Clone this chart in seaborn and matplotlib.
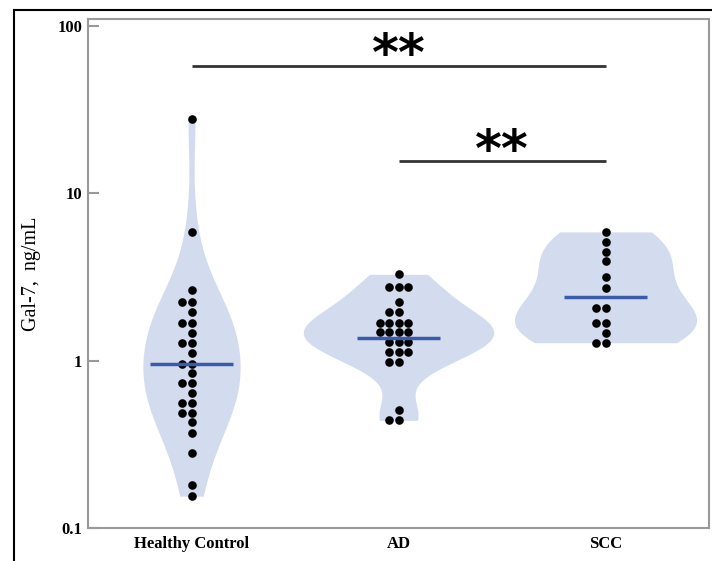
import numpy as np
import pandas as pd
import seaborn as sns
import matplotlib.pyplot as plt
from matplotlib.lines import Line2D

groups = ['Healthy Control', 'AD', 'SCC']

hc_vals = [27.7, 5.88, 2.63, 2.24, 2.24, 1.95, 1.69, 1.69, 1.46, 1.28, 1.28,
           1.11, 0.96, 0.96, 0.84, 0.74, 0.74, 0.64, 0.56, 0.56, 0.49, 0.49,
           0.43, 0.37, 0.28, 0.18, 0.155]
ad_vals = [3.28, 2.76, 2.76, 2.76, 2.24, 1.95, 1.95, 1.68, 1.68, 1.68, 1.68,
           1.48, 1.48, 1.48, 1.48, 1.30, 1.30, 1.30, 1.13, 1.13, 1.13,
           0.98, 0.98, 0.51, 0.44, 0.44]
scc_vals = [5.88, 5.12, 4.46, 3.93, 3.16, 2.72, 2.05, 2.05, 1.69, 1.69, 1.46,
            1.28, 1.28]
medians = [0.96, 1.37, 2.41]

# significance brackets: (x start, x end, y level)
sig_pairs = [(0, 2, 58), (1, 2, 15.5)]
sig_label = '**'

df = pd.DataFrame({
    'group': ['Healthy Control'] * len(hc_vals) + ['AD'] * len(ad_vals) + ['SCC'] * len(scc_vals),
    'value': hc_vals + ad_vals + scc_vals,
})

fig = plt.figure(figsize=(7.12, 5.61), dpi=100)
ax = fig.add_axes([0.1236, 0.0588, 0.8722, 0.9073])

# each violin drawn on its own so its width can follow the original
violin_widths = {'Healthy Control': 0.47, 'AD': 0.92, 'SCC': 0.88}
for g in groups:
    sns.violinplot(data=df[df['group'] == g], x='group', y='value', order=groups,
                   log_scale=True, cut=0, inner=None, color='#d3dcef',
                   saturation=1, linewidth=0, density_norm='width',
                   width=violin_widths[g], ax=ax)
sns.swarmplot(data=df, x='group', y='value', order=groups, color='black',
              size=6.2, ax=ax, zorder=3)

for i, m in enumerate(medians):
    ax.hlines(m, i - 0.2, i + 0.2, color='#3b5aa8', linewidth=2.5, zorder=4)

for x0, x1, yv in sig_pairs:
    ax.hlines(yv, x0, x1, color='#333333', linewidth=2)
    ax.annotate(sig_label, xy=((x0 + x1) / 2, yv), xytext=(0, -11),
                textcoords='offset points', ha='center', va='bottom',
                fontsize=37, fontweight='bold', family='DejaVu Sans')

ax.set_ylim(0.1, 110)
ax.set_xlim(-0.5, 2.5)
ax.set_yticks([0.1, 1, 10, 100])
ax.set_yticklabels(['0.1', '1', '10', '100'])
ax.minorticks_off()
ax.tick_params(axis='y', direction='in', length=8, width=1.5, color='#999999', pad=4)
ax.tick_params(axis='x', length=0, pad=6)
for lab in ax.get_xticklabels() + ax.get_yticklabels():
    lab.set_family('Liberation Serif')
    lab.set_fontweight('bold')
    lab.set_fontsize(12)
ax.set_xlabel('')
ax.set_ylabel('Gal-7,  ng/mL', family='Liberation Serif', fontsize=14.5, labelpad=12)
for s in ax.spines.values():
    s.set_color('#999999')
    s.set_linewidth(1.5)

# screenshot frame
fig.add_artist(Line2D([14 / 712, 14 / 712], [0, 1 - 10 / 561], color='black', linewidth=1.5))
fig.add_artist(Line2D([14 / 712, 1], [1 - 10 / 561, 1 - 10 / 561], color='black', linewidth=1.5))

fig.savefig('out.png', dpi=100)
